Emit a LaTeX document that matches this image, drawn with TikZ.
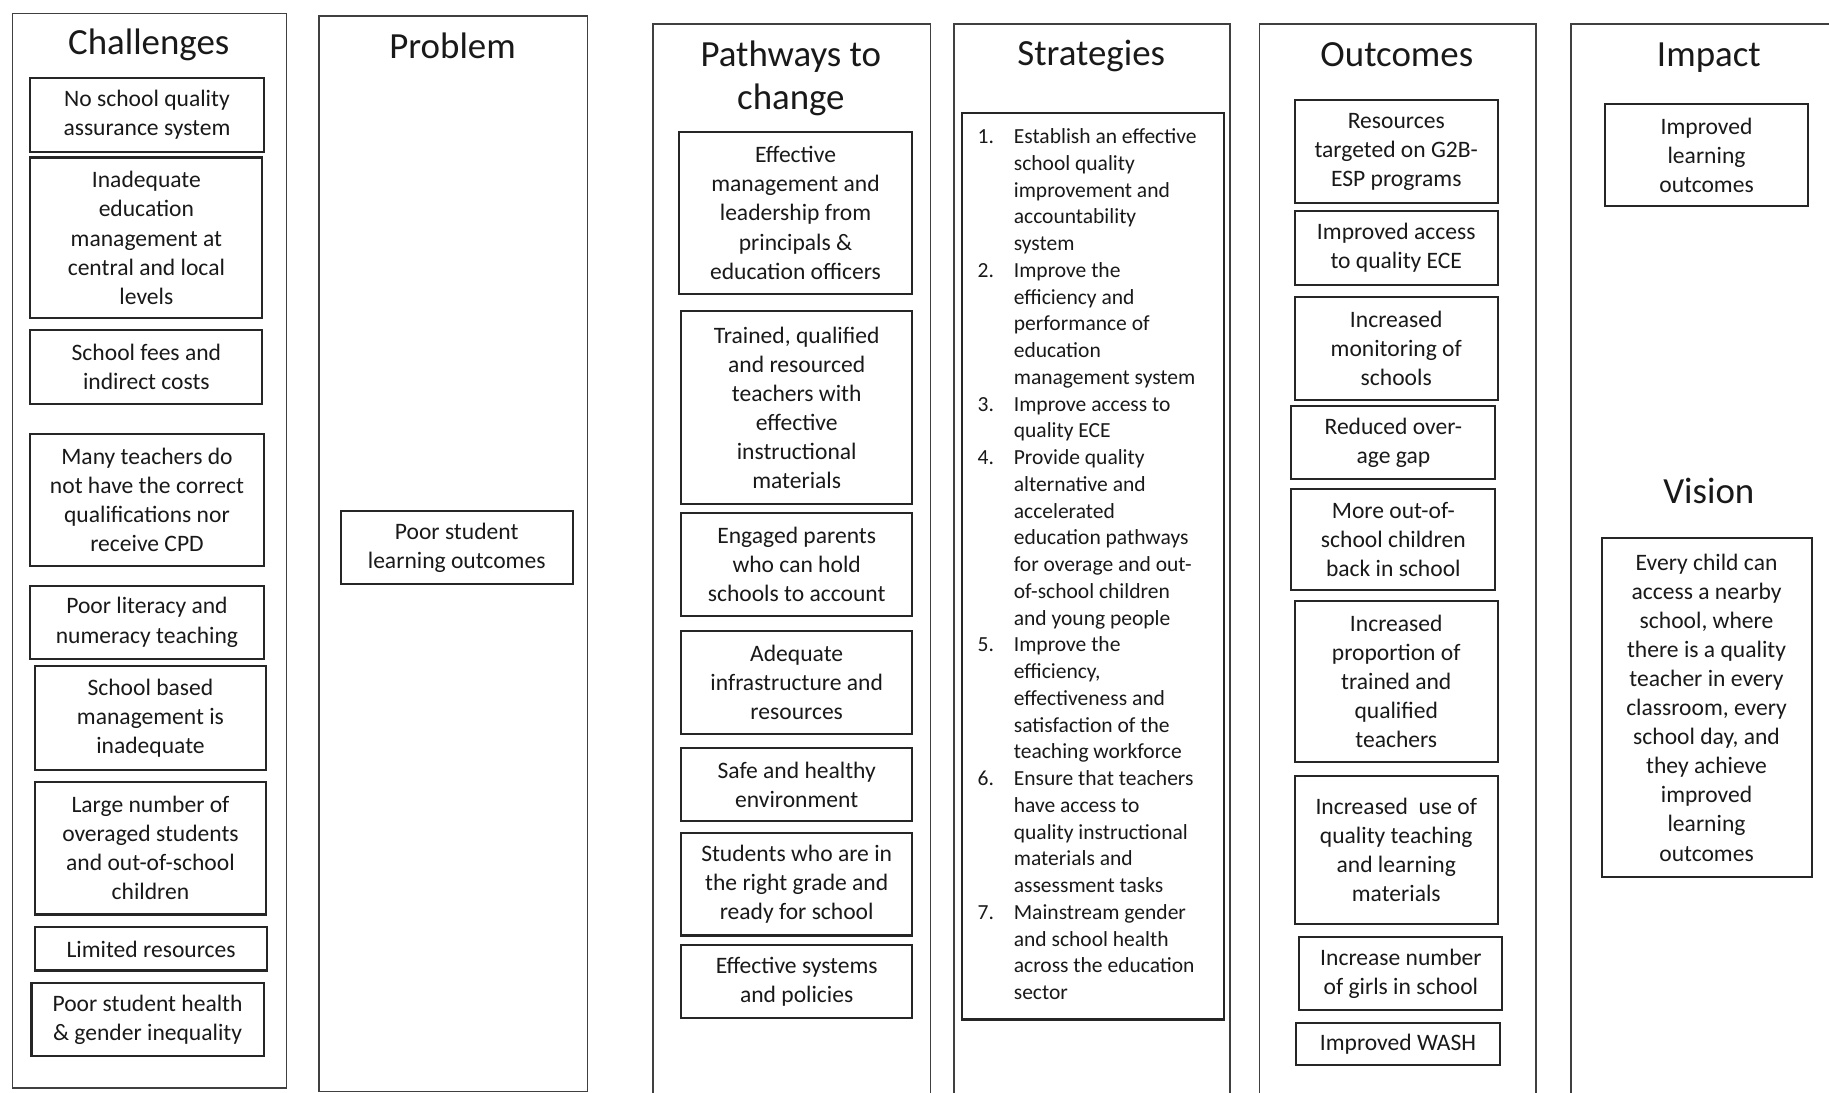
\documentclass[tikz,border=0pt]{standalone}
\usepackage{fontspec}
\setmainfont{Carlito}

\begin{document}
\begin{tikzpicture}[x=0.02cm, y=-0.02cm, black!90,
  col/.style={draw=black!75, line width=0.8pt, anchor=north west, inner sep=0pt},
  head/.style={anchor=base, align=center, font=\fontsize{18}{21}\selectfont},
  box/.style={draw=black!85, line width=1pt, align=center, inner sep=0pt,
    font=\fontsize{11.5}{14.2}\selectfont},
  sz/.style 2 args={minimum width=#1*0.02cm, minimum height=#2*0.02cm},
]
  \useasboundingbox (0,0) rectangle (1568,937);
  \clip (0,0) rectangle (1568,937);

  % columns
  \node[col, sz={235}{921}] (chal) at (10,11) {};
  \node[col, sz={230}{922}] (prob) at (273,13) {};
  \node[col, sz={238}{940}] (path) at (559,20) {};
  \node[col, sz={237}{940}] (strat) at (817,20) {};
  \node[col, sz={237}{940}] (outc) at (1079,20) {};
  \node[col, sz={254}{940}] (imp) at (1346,20) {};

  \node[head] (tchal) at (127.5,47) {Challenges};
  \node[head] (tprob) at (388,50) {Problem};
  \node[head, anchor=center] (tpath) at (678,67) {Pathways to\\change};
  \node[head] (tstrat) at (935.5,56) {Strategies};
  \node[head] (toutc) at (1197.5,57) {Outcomes};
  \node[head] (timp) at (1465,57) {Impact};
  \node[head] (tvis) at (1465,432) {Vision};

  % challenges
  \node[box, sz={200}{63}] (c1) at (126,98.5) {No school quality\\assurance system};
  \node[box, sz={199}{138}] (c2) at (125.5,204) {Inadequate\\education\\management at\\central and local\\levels};
  \node[box, sz={199}{63}] (c3) at (125.5,314.5) {School fees and\\indirect costs};
  \node[box, sz={200}{113}] (c4) at (126,428.5) {Many teachers do\\not have the correct\\qualifications nor\\receive CPD};
  \node[box, sz={200}{63}] (c5) at (126,533.5) {Poor literacy and\\numeracy teaching};
  \node[box, sz={198}{89}] (c6) at (129,615.5) {School based\\management is\\inadequate};
  \node[box, sz={198}{114}] (c7) at (129,727) {Large number of\\overaged students\\and out-of-school\\children};
  \node[box, sz={199}{37}] (c8) at (129.5,813.5) {Limited resources};
  \node[box, sz={199}{62}] (c9) at (126.5,874) {Poor student health\\\& gender inequality};

  % problem
  \node[box, sz={199}{63}] (p1) at (391.5,469.5) {Poor student\\learning outcomes};

  % pathways to change
  \node[box, sz={200}{139}] (w1) at (682,182.5) {Effective\\management and\\leadership from\\principals \&\\education officers};
  \node[box, sz={198}{165}] (w2) at (683,349.5) {Trained, qualified\\and resourced\\teachers with\\effective\\instructional\\materials};
  \node[box, sz={198}{88}] (w3) at (683,484) {Engaged parents\\who can hold\\schools to account};
  \node[box, sz={198}{88}] (w4) at (683,585) {Adequate\\infrastructure and\\resources};
  \node[box, sz={198}{63}] (w5) at (683,672.5) {Safe and healthy\\environment};
  \node[box, sz={198}{88}] (w6) at (683,758) {Students who are in\\the right grade and\\ready for school};
  \node[box, sz={198}{63}] (w7) at (683,841.5) {Effective systems\\and policies};

  % strategies
  \node[box, sz={224}{777}, align=left, font=\fontsize{10.5}{13.05}\selectfont] (s1) at (937,485.5) {%
    \begin{tabular}{@{}p{0.62cm}@{}l@{}}
      1. & Establish an effective\\ & school quality\\ & improvement and\\ & accountability\\ & system\\
      2. & Improve the\\ & efficiency and\\ & performance of\\ & education\\ & management system\\
      3. & Improve access to\\ & quality ECE\\
      4. & Provide quality\\ & alternative and\\ & accelerated\\ & education pathways\\ & for overage and out-\\ & of-school children\\ & and young people\\
      5. & Improve the\\ & efficiency,\\ & effectiveness and\\ & satisfaction of the\\ & teaching workforce\\
      6. & Ensure that teachers\\ & have access to\\ & quality instructional\\ & materials and\\ & assessment tasks\\
      7. & Mainstream gender\\ & and school health\\ & across the education\\ & sector
    \end{tabular}\kern0.2cm};

  % outcomes
  \node[box, sz={174}{88}] (o1) at (1197,130) {Resources\\targeted on G2B-\\ESP programs};
  \node[box, sz={174}{63}] (o2) at (1197,212.5) {Improved access\\to quality ECE};
  \node[box, sz={174}{88}] (o3) at (1197,299) {Increased\\monitoring of\\schools};
  \node[box, sz={175}{63}] (o4) at (1194.5,379.5) {Reduced over-\\age gap};
  \node[box, sz={175}{87}] (o5) at (1194.5,462.5) {More out-of-\\school children\\back in school};
  \node[box, sz={174}{138}] (o6) at (1197,584) {Increased\\proportion of\\trained and\\qualified\\teachers};
  \node[box, sz={174}{127}] (o7) at (1197,728.5) {Increased\ \ use of\\quality teaching\\and learning\\materials};
  \node[box, sz={174}{63}] (o8) at (1201,834.5) {Increase number\\of girls in school};
  \node[box, sz={175}{36}] (o9) at (1198.5,895) {Improved WASH};

  % impact and vision
  \node[box, sz={174}{88}] (i1) at (1463,133) {Improved\\learning\\outcomes};
  \node[box, sz={180}{291}] (v1) at (1463,606.5) {Every child can\\access a nearby\\school, where\\there is a quality\\teacher in every\\classroom, every\\school day, and\\they achieve\\improved\\learning\\outcomes};
\end{tikzpicture}
\end{document}
